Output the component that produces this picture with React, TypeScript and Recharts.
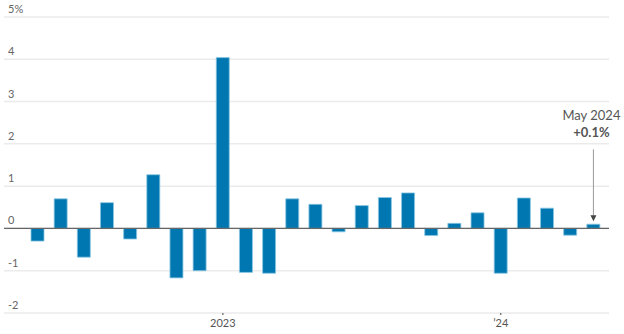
import React from 'react';
import { BarChart, Bar, XAxis, YAxis, CartesianGrid, ReferenceLine } from 'recharts';

const months = [
  'May 2022', 'Jun 2022', 'Jul 2022', 'Aug 2022', 'Sep 2022', 'Oct 2022', 'Nov 2022', 'Dec 2022',
  'Jan 2023', 'Feb 2023', 'Mar 2023', 'Apr 2023', 'May 2023', 'Jun 2023', 'Jul 2023', 'Aug 2023',
  'Sep 2023', 'Oct 2023', 'Nov 2023', 'Dec 2023', 'Jan 2024', 'Feb 2024', 'Mar 2024', 'Apr 2024', 'May 2024',
];
const changes = [
  -0.3, 0.7, -0.68, 0.61, -0.25, 1.27, -1.17, -1.0,
  4.04, -1.04, -1.06, 0.7, 0.57, -0.08, 0.54, 0.73,
  0.84, -0.17, 0.12, 0.37, -1.06, 0.72, 0.48, -0.16, 0.1,
];
const yTicks = [-2, -1, 0, 1, 2, 3, 4, 5];
const xTickValues = ['Jan 2023', 'Jan 2024'];
const xTickLabels = ['2023', '\u201924'];
const annotationMonth = 'May 2024';
const annotationLines = ['May 2024', '+0.1%'];
const arrowFrom = 1.87;
const arrowTo = 0.17;

const data = months.map((m, i) => ({ month: m, value: changes[i] }));

const FONT = 'Lato, "Open Sans", sans-serif';

const YTick = (props: any) => {
  const { y, payload } = props;
  const label = payload.value === 5 ? '5%' : String(payload.value);
  return (
    <text x={8} y={y - 4} fontSize={11} fill="#666" fontFamily={FONT} textAnchor="start">
      {label}
    </text>
  );
};

const XTick = (props: any) => {
  const { x, y, payload } = props;
  const idx = xTickValues.indexOf(payload.value);
  return (
    <g>
      <line x1={x} x2={x} y1={y} y2={y + 2} stroke="#444" strokeWidth={1} />
      <text x={x} y={y + 14} fontSize={11} fill="#555" fontFamily={FONT} textAnchor="middle">
        {idx >= 0 ? xTickLabels[idx] : ''}
      </text>
    </g>
  );
};

const ArrowShape = (props: any) => {
  const { x1, y1, x2, y2 } = props;
  return (
    <g>
      <text x={x1 - 2} y={y1 - 29} fontSize={13} fill="#555" fontFamily={FONT} textAnchor="middle">
        {annotationLines[0]}
      </text>
      <text x={x1 - 2} y={y1 - 12} fontSize={13} fontWeight="bold" fill="#555" fontFamily={FONT} textAnchor="middle">
        {annotationLines[1]}
      </text>
      <line x1={x1} y1={y1} x2={x2} y2={y2 - 4} stroke="#999" strokeWidth={1} />
      <polygon points={`${x2 - 3},${y2 - 6} ${x2 + 3},${y2 - 6} ${x2},${y2}`} fill="#444" />
    </g>
  );
};

export default function App() {
  return (
    <div style={{ position: 'absolute', left: 0, top: 0, width: 624, height: 334, background: '#fff' }}>
      <BarChart
        width={624}
        height={334}
        data={data}
        margin={{ top: 17, right: 15, bottom: 0, left: 3 }}
        barCategoryGap={5}
      >
        <CartesianGrid vertical={false} stroke="#ebebeb" strokeWidth={1.5} />
        <XAxis
          dataKey="month"
          ticks={xTickValues}
          interval={0}
          tick={<XTick />}
          tickLine={false}
          tickSize={0}
          tickMargin={0}
          axisLine={false}
          height={21}
          padding={{ left: 22, right: 4 }}
        />
        <YAxis
          domain={[-2, 5]}
          ticks={yTicks}
          width={1}
          tick={<YTick />}
          tickLine={false}
          axisLine={false}
          allowDataOverflow
          interval={0}
        />
        <ReferenceLine y={0} stroke="#666" strokeWidth={1.2} />
        <Bar dataKey="value" fill="#0077b0" stroke="#8cc6e2" strokeWidth={0.8} isAnimationActive={false} />
        <ReferenceLine
          segment={[{ x: annotationMonth, y: arrowFrom }, { x: annotationMonth, y: arrowTo }]}
          shape={<ArrowShape />}
        />
      </BarChart>
    </div>
  );
}
